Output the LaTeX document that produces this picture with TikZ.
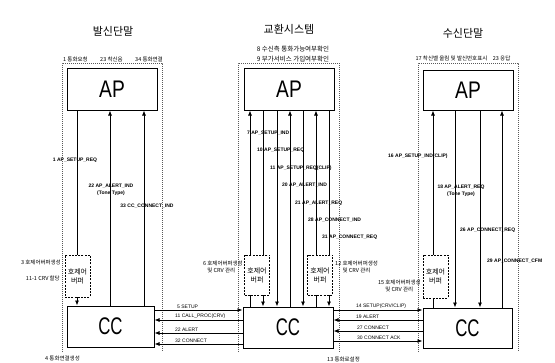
\documentclass[tikz,border=0pt]{standalone}
\usepackage{fontspec}
\setmainfont{Liberation Sans}
\newfontfamily\kr{Noto Sans CJK KR}
\usetikzlibrary{arrows.meta}
\begin{document}
\begin{tikzpicture}[x=1pt,y=-1pt,
  box/.style={draw, line width=1pt, inner sep=0pt, font=\fontsize{24}{26}\selectfont},
  buf/.style={draw, dash pattern=on 2pt off 1.2pt, line width=0.6pt, inner sep=0pt, minimum width=25pt, align=center, font=\kr\fontsize{7}{9}\selectfont},
  frm/.style={line width=0.5pt, dash pattern=on 1pt off 1pt, black!65},
  ln/.style={line width=0.8pt},
  arr/.style={line width=0.8pt, -{Latex[length=5pt,width=4pt]}},
  lab/.style={font=\bfseries\fontsize{5}{7}\selectfont, inner sep=0pt},
  hlab/.style={font=\fontsize{5}{6}\selectfont, inner sep=0pt, anchor=south west},
  klab/.style={font=\kr\fontsize{5.5}{7.5}\selectfont, inner sep=0pt},
  klabb/.style={font=\kr\fontsize{6.5}{9}\selectfont, inner sep=0pt},
  ttl/.style={font=\kr\fontsize{11}{13}\selectfont, inner sep=0pt},
]
\useasboundingbox[fill=white] (0,0) rectangle (555,362);

% titles
\node[ttl] (tL) at (113,31) {발신단말};
\node[ttl] (tM) at (289,29) {교환시스템};
\node[ttl] (tR) at (463,33) {수신단말};

% top labels
\node[klab,anchor=west] (l1) at (63,59) {1 통화요청};
\node[klab,anchor=west] (l23) at (100,59) {23 착신음};
\node[klab,anchor=west] (l34) at (135,59) {34 통화연결};
\node[klabb] (m8) at (293,49) {8 수신측 통화가능여부확인};
\node[klabb] (m9) at (293,59) {9 부가서비스 가입여부확인};
\node[klab] (r17) at (463,58) {17 착신벨 울림 및 발신번호표시\quad 23 응답};

% frames
\draw[frm] (62,352) -- (62,63) -- (162,63) -- (162,352);
\draw[frm] (238,352) -- (238,63) -- (339,63) -- (339,352);
\draw[frm] (418,352) -- (418,63) -- (518,63) -- (518,352);

% AP boxes
\node[box, minimum width=90pt, minimum height=42pt] (apL) at (112,89) {\scalebox{0.8}[1]{AP}};
\node[box, minimum width=90pt, minimum height=42pt] (apM) at (289,89) {\scalebox{0.8}[1]{AP}};
\node[box, minimum width=90pt, minimum height=40pt] (apR) at (468,90) {\scalebox{0.8}[1]{AP}};

% buffers
\node[buf, minimum height=42pt] (bufL) at (77.5,276) {호제어\\버퍼};
\node[buf, minimum height=40pt] (bufM1) at (257,275) {호제어\\버퍼};
\node[buf, minimum height=40pt] (bufM2) at (320,275) {호제어\\버퍼};
\node[buf, minimum height=43pt] (bufR) at (435.5,276.5) {호제어\\버퍼};

% CC boxes
\node[box, minimum width=87pt, minimum height=41pt] (ccL) at (110.5,326.5) {\scalebox{0.7}[1]{CC}};
\node[box, minimum width=90pt, minimum height=41pt] (ccM) at (288,327.5) {\scalebox{0.7}[1]{CC}};
\node[box, minimum width=89pt, minimum height=40pt] (ccR) at (467.5,328) {\scalebox{0.7}[1]{CC}};

% column coordinates
\coordinate (xL1) at (77,0);  \coordinate (xL2) at (110,0); \coordinate (xL3) at (144,0);
\coordinate (xM1) at (250,0); \coordinate (xM2) at (263,0); \coordinate (xM3) at (277,0);
\coordinate (xM4) at (290,0); \coordinate (xM5) at (303,0); \coordinate (xM6) at (316,0);
\coordinate (xM7) at (329,0);
\coordinate (xR1) at (433,0); \coordinate (xR2) at (455,0); \coordinate (xR3) at (480,0);
\coordinate (xR4) at (502,0);

% left verticals
\draw[ln] (apL.south -| xL1) -- (bufL.north -| xL1);
\draw[arr] (bufL.south -| xL1) -- (ccL.north -| xL1);
\draw[arr] (ccL.north -| xL2) -- (apL.south -| xL2);
\draw[arr] (ccL.north -| xL3) -- (apL.south -| xL3);

% middle verticals
\draw[ln] (ccM.north -| xM1) -- (bufM1.south -| xM1);
\draw[arr] (bufM1.north -| xM1) -- (apM.south -| xM1);
\draw[ln] (apM.south -| xM2) -- (bufM1.north -| xM2);
\draw[arr] (bufM1.south -| xM2) -- (ccM.north -| xM2);
\draw[arr] (apM.south -| xM3) -- (ccM.north -| xM3);
\draw[arr] (ccM.north -| xM4) -- (apM.south -| xM4);
\draw[arr] (apM.south -| xM5) -- (ccM.north -| xM5);
\draw[ln] (ccM.north -| xM6) -- (bufM2.south -| xM6);
\draw[arr] (bufM2.north -| xM6) -- (apM.south -| xM6);
\draw[ln] (apM.south -| xM7) -- (bufM2.north -| xM7);
\draw[arr] (bufM2.south -| xM7) -- (ccM.north -| xM7);

% right verticals
\draw[ln] (ccR.north -| xR1) -- (bufR.south -| xR1);
\draw[arr] (bufR.north -| xR1) -- (apR.south -| xR1);
\draw[arr] (apR.south -| xR2) -- (ccR.north -| xR2);
\draw[arr] (apR.south -| xR3) -- (ccR.north -| xR3);
\draw[arr] (ccR.north -| xR4) -- (apR.south -| xR4);

% vertical labels
\node[lab] (v1) at (75,160) {1 AP\_SETUP\_REQ};
\node[lab, align=center] (v22) at (111,189.5) {22 AP\_ALERT\_IND\\(Tone Type)};
\node[lab] (v33) at (147,206) {33 CC\_CONNECT\_IND};
\node[lab, anchor=west] (v7) at (247,133) {7 AP\_SETUP\_IND};
\node[lab, anchor=west] (v10) at (257,150) {10 AP\_SETUP\_REQ};
\node[lab, anchor=west] (v11) at (270,168) {11 AP\_SETUP\_REQ(CLIP)};
\node[lab, anchor=west] (v20) at (282,185) {20 AP\_ALERT\_IND};
\node[lab, anchor=west] (v21) at (295,203) {21 AP\_ALERT\_REQ};
\node[lab, anchor=west] (v28) at (308,220) {28 AP\_CONNECT\_IND};
\node[lab, anchor=west] (v31) at (322,237) {31 AP\_CONNECT\_REQ};
\node[lab, anchor=west] (v16) at (388,156) {16 AP\_SETUP\_IND(CLIP)};
\node[lab, align=center] (v18) at (461,191) {18 AP\_ALERT\_REQ\\(Tone Type)};
\node[lab, anchor=west] (v26) at (460,230) {26 AP\_CONNECT\_REQ};
\node[lab, anchor=west] (v29) at (487,261) {29 AP\_CONNECT\_CFM};

% buffer side labels
\node[klab, anchor=east] (s3) at (61,262) {3 호제어버퍼생성};
\node[klab, anchor=east] (s11) at (60,278) {11-1 CRV 할당};
\node[klab, anchor=east, align=left] (s6) at (243,267) {6 호제어버퍼생성\\\phantom{6 }및 CRV 관리};
\node[klab, anchor=west, align=left] (s12) at (335,267) {12 호제어버퍼생성\\\phantom{12 }및 CRV 관리};
\node[klab, anchor=east, align=left] (s15) at (421,286) {15 호제어버퍼생성\\\phantom{15 }및 CRV 관리};

% horizontal rows
\coordinate (y1) at (0,310); \coordinate (y2) at (0,320);
\coordinate (y3) at (0,333); \coordinate (y4) at (0,344);
\coordinate (z1) at (0,310); \coordinate (z2) at (0,320);
\coordinate (z3) at (0,331); \coordinate (z4) at (0,341);

\draw[arr] (ccL.east |- y1) -- (ccM.west |- y1);
\draw[arr] (ccM.west |- y2) -- (ccL.east |- y2);
\draw[arr] (ccM.west |- y3) -- (ccL.east |- y3);
\draw[arr] (ccM.west |- y4) -- (ccL.east |- y4);
\draw[arr] (ccM.east |- z1) -- (ccR.west |- z1);
\draw[arr] (ccR.west |- z2) -- (ccM.east |- z2);
\draw[arr] (ccR.west |- z3) -- (ccM.east |- z3);
\draw[arr] (ccM.east |- z4) -- (ccR.west |- z4);

\node[hlab] (h5) at (177,308.5) {5 SETUP};
\node[hlab] (h11) at (175,318.5) {11 CALL\_PROC(CRV)};
\node[hlab] (h22) at (175,331.5) {22 ALERT};
\node[hlab] (h32) at (175,342.5) {32 CONNECT};
\node[hlab] (h14) at (356,308.5) {14 SETUP(CRV/CLIP)};
\node[hlab] (h19) at (356,318.5) {19 ALERT};
\node[hlab] (h27) at (357,329.5) {27 CONNECT};
\node[hlab] (h30) at (357,339.5) {30 CONNECT ACK};

% bottom labels
\node[klab, anchor=west] (b4) at (45,358) {4 통화연결생성};
\node[klab, anchor=west] (b13) at (327,359) {13 통화로설정};
\end{tikzpicture}
\end{document}
